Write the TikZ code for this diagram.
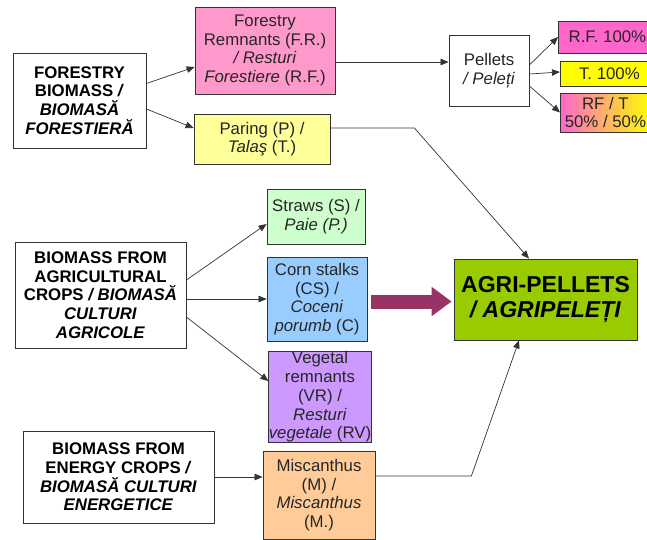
\documentclass[tikz,border=0pt]{standalone}
\usepackage{fontspec}
\setmainfont{Liberation Sans}
\usetikzlibrary{arrows.meta,positioning}

\definecolor{frpink}{HTML}{FF99CC}
\definecolor{paringyellow}{HTML}{FFFF99}
\definecolor{rfmagenta}{HTML}{FF66CC}
\definecolor{tyellow}{HTML}{FFFF00}
\definecolor{strawgreen}{HTML}{CCFFCC}
\definecolor{cornblue}{HTML}{99CCFF}
\definecolor{vegpurple}{HTML}{CC99FF}
\definecolor{miscorange}{HTML}{FFCC99}
\definecolor{agrigreen}{HTML}{99CC00}
\definecolor{arrowplum}{HTML}{993366}

\begin{document}
\begin{tikzpicture}[
    x=1pt, y=-1pt,
    source/.style={rectangle, draw=black!80, fill=white, line width=0.8pt,
                   inner sep=0pt, align=center,
                   font=\fontsize{16.8}{18.7}\selectfont\bfseries},
    feed/.style={rectangle, draw=black!80, line width=0.8pt,
                 inner sep=0pt, align=center, text=black!85,
                 font=\fontsize{16.8}{18.7}\selectfont},
    share/.style={feed, minimum width=98pt, anchor=west},
    final/.style={rectangle, draw=black!80, fill=agrigreen, line width=0.8pt,
                  inner sep=0pt, align=center,
                  font=\fontsize{23}{24.5}\selectfont\bfseries},
    link/.style={draw=black!80, line width=0.7pt, ->},
    bigarrow/.style={draw=arrowplum, line width=14pt,
                     -{Triangle[length=20pt,width=28pt]}},
    >={Triangle[length=8pt,width=6.5pt]},
]
    \useasboundingbox (0,0) rectangle (647,539);
    \clip (0,0) rectangle (647,539);

    % Sources
    \node[source, minimum width=133pt, minimum height=95pt] (forest) at (79.5,100.5)
        {FORESTRY\\BIOMASS \textit{/}\\\textit{BIOMASĂ}\\\textit{FORESTIERĂ}};
    \node[source, minimum width=171pt, minimum height=106pt] (agri) at (100.5,295)
        {BIOMASS FROM\\AGRICULTURAL\\CROPS \textit{/ BIOMASĂ}\\\textit{CULTURI}\\\textit{AGRICOLE}};
    \node[source, minimum width=191pt, minimum height=92pt] (energy) at (118.5,477)
        {BIOMASS FROM\\ENERGY CROPS \textit{/}\\\textit{BIOMASĂ CULTURI}\\\textit{ENERGETICE}};

    % Raw materials
    \node[feed, fill=frpink, minimum width=140pt, minimum height=87pt] (fr) at (265,50.5)
        {Forestry\\Remnants (F.R.)\\\textit{/ Resturi}\\\textit{Forestiere} (R.F.)};
    \node[feed, fill=paringyellow, minimum width=136pt, minimum height=50pt] (paring) at (262,139)
        {Paring (P) /\\\textit{Talaş} (T.)};
    \node[feed, fill=strawgreen, minimum width=98pt, minimum height=55pt] (straws) at (316,216.5)
        {Straws (S) /\\\textit{Paie (P.)}};
    \node[feed, fill=cornblue, minimum width=100pt, minimum height=84pt] (corn) at (317,299)
        {Corn stalks\\(CS) /\\\textit{Coceni}\\\textit{porumb} (C)};
    \node[feed, fill=vegpurple, minimum width=102pt, minimum height=88pt] (veg) at (320,397)
        {Vegetal\\remnants\\(VR) /\\\textit{Resturi}\\\textit{vegetale} (RV)};
    \node[feed, fill=miscorange, minimum width=112pt, minimum height=88pt] (misc) at (319,495)
        {Miscanthus\\(M) /\\\textit{Miscanthus}\\(M.)};

    % Pellets and blends
    \node[feed, fill=white, minimum width=80pt, minimum height=71pt] (pellets) at (489,70.5)
        {Pellets\\\textit{/ Peleți}};
    \node[share, fill=rfmagenta, minimum height=32pt] (rf100) at (558,37) {R.F. 100\%};
    \node[share, fill=tyellow, minimum height=25pt] (t100) at (560,73.5) {T. 100\%};
    \node[share, left color=rfmagenta, right color=tyellow, minimum width=90pt,
          minimum height=39pt] (rft) at (560,112.5)
        {RF / T\\50\% / 50\%};

    % Product
    \node[final, minimum width=183pt, minimum height=81pt] (pellet) at (545.5,299.5)
        {AGRI-PELLETS\\\textit{/ AGRIPELEȚI}};

    % Arrows
    \draw[link] ([yshift=17pt]forest.east) -- ([yshift=-16.5pt]fr.west);
    \draw[link] ([yshift=-8.5pt]forest.east) -- ([yshift=11pt]paring.west);
    \draw[link] ([yshift=-11.5pt]fr.east) -- ([yshift=8.5pt]pellets.west);
    \draw[link] ([yshift=5.5pt]pellets.east) -- (rf100.west);
    \draw[link] ([yshift=-3.5pt]pellets.east) -- ([yshift=1.5pt]t100.west);
    \draw[link] ([yshift=-15.5pt]pellets.east) -- (rft.west);
    \draw[link] ([yshift=11pt]paring.east) -- ++(84,0) -- ([xshift=-16.5pt]pellet.north);
    \draw[link] ([yshift=15pt]agri.east) -- ([yshift=-7.5pt]straws.west);
    \draw[link] ([yshift=-4pt]agri.east) -- (corn.west);
    \draw[link] ([yshift=-22pt]agri.east) -- ([yshift=16pt]veg.west);
    \draw[link] (energy.east) -- ([yshift=18pt]misc.west);
    \draw[link] ([yshift=19pt]misc.east) -- ++(96,0) -- ([xshift=-26.5pt]pellet.south);
    \draw[bigarrow] ([xshift=4pt,yshift=-2.5pt]corn.east) -- ([xshift=-2pt,yshift=-2.5pt]corn.east -| pellet.west);
\end{tikzpicture}
\end{document}
